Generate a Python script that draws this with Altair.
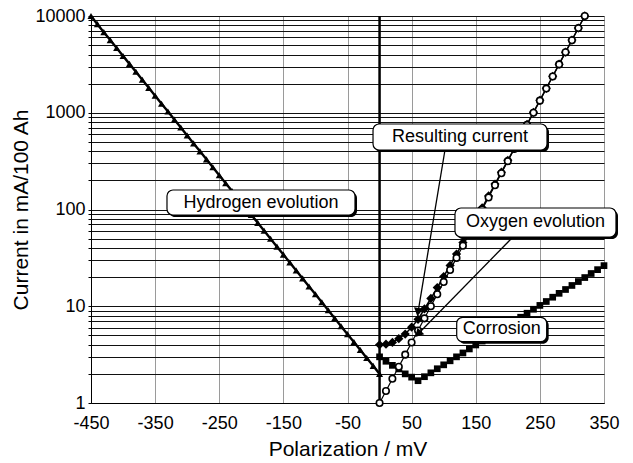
import altair as alt
import pandas as pd

# ---------------- data ----------------
hydrogen_x = [-450, -440, -430, -420, -410, -400, -390, -380, -370, -360,
              -350, -340, -330, -320, -310, -300, -290, -280, -270, -260,
              -250, -240, -230, -220, -210, -200, -190, -180, -170, -160,
              -150, -140, -130, -120, -110, -100, -90, -80, -70, -60,
              -50, -40, -30, -20, -10, 0]
hydrogen_y = [10000, 8230, 6810, 5640, 4670, 3860, 3200, 2650, 2190, 1810,
              1500, 1240, 1030, 850, 703, 582, 482, 399, 330, 273,
              226, 187, 155, 128, 106, 88, 72.8, 60.3, 49.9, 41.3,
              34.2, 28.3, 23.4, 19.4, 16.0, 13.3, 11.0, 9.08, 7.52, 6.22,
              5.15, 4.26, 3.53, 2.92, 2.42, 2.0]

oxygen_x = [0, 10, 20, 30, 40, 50, 60, 70, 80, 90, 100, 110, 120, 130, 140,
            150, 160, 170, 180, 190, 200, 210, 220, 230, 240, 250, 260, 270,
            280, 290, 300, 310, 320]
oxygen_y = [1.0, 1.33, 1.78, 2.37, 3.16, 4.22, 5.62, 7.5, 10.0, 13.3, 17.8,
            23.7, 31.6, 42.2, 56.2, 75, 100, 133, 178, 237, 316, 422, 562,
            750, 1000, 1334, 1778, 2371, 3162, 4217, 5623, 7499, 10000]

corrosion_x = [0, 10, 20, 30, 40, 50, 60, 70, 80, 90, 100, 110, 120, 130,
               140, 150, 160, 170, 180, 190, 200, 210, 220, 230, 240, 250,
               260, 270, 280, 290, 300, 310, 320, 330, 340, 350]
corrosion_y = [3.0, 2.7, 2.45, 2.25, 2.0, 1.85, 1.7, 1.87, 2.05, 2.26, 2.48,
               2.73, 3.0, 3.29, 3.62, 3.98, 4.37, 4.8, 5.28, 5.8, 6.38, 7.01,
               7.7, 8.47, 9.31, 10.2, 11.2, 12.4, 13.6, 14.9, 16.4, 18.0,
               19.8, 21.8, 23.9, 26.3]

resulting_x = [0, 10, 20, 30, 40, 50, 60, 70, 80, 90, 100, 110, 120, 130,
               140, 150, 160, 170, 180, 190, 200, 210, 220, 230, 240, 250,
               260, 270, 280, 290, 300, 310, 320]
resulting_y = [4.0, 4.05, 4.23, 4.62, 5.16, 6.07, 7.32, 9.37, 12.05, 15.6,
               20.3, 26.4, 34.6, 45.5, 59.8, 79, 104, 138, 183, 243, 322,
               429, 570, 758, 1009, 1344, 1789, 2383, 3176, 4232, 5639,
               7517, 10020]

x_ticks = [-450, -350, -250, -150, -50, 50, 150, 250, 350]
y_ticks = [1, 2, 3, 4, 5, 6, 7, 8, 9,
           10, 20, 30, 40, 50, 60, 70, 80, 90,
           100, 200, 300, 400, 500, 600, 700, 800, 900,
           1000, 2000, 3000, 4000, 5000, 6000, 7000, 8000, 9000, 10000]
y_labels = [1, 10, 100, 1000, 10000]

# callout boxes (data units)
box_text = ["Hydrogen evolution", "Resulting current", "Oxygen evolution", "Corrosion"]
box_x1 = [-331.5, -10.2, 117.6, 120.3]
box_x2 = [-38.3, 261.1, 368.7, 260.6]
box_y1 = [87.7, 412, 52.0, 4.30]
box_y2 = [159, 765, 103.6, 7.69]

# leader lines (data units): start at box, end at curve
lead_x1 = [102, 208]
lead_y1 = [412, 52.0]
lead_x2 = [60, 60]
lead_y2 = [8.7, 5.17]
lead_angle = [189.5, 224.4]

FONT = "Liberation Sans"

# ---------------- encodings ----------------
x_scale = alt.Scale(domain=[-450, 350], nice=False, zero=False)
y_scale = alt.Scale(type="log", domain=[1, 10000], nice=False)
label_test = " || ".join(f"datum.value == {v}" for v in y_labels)
x_axis = alt.Axis(values=x_ticks, title="Polarization / mV", grid=True,
                  gridColor="#9a9a9a", gridWidth=1, ticks=False,
                  domainColor="black", domainWidth=1, labelFlush=False,
                  labelExpr="'' + datum.value",
                  labelPadding=11, titlePadding=6, labelFontSize=18,
                  titleFontSize=21, labelFont=FONT, titleFont=FONT,
                  titleFontWeight="normal", labelColor="black", titleColor="black")
y_axis = alt.Axis(values=y_ticks, title="Current in mA/100 Ah", grid=True,
                  gridColor="#111111", gridWidth=1, ticks=True, tickSize=3,
                  tickColor="black", domainColor="black", domainWidth=1,
                  labelExpr=f"({label_test}) ? ('' + datum.value) : ''",
                  labelOverlap=False, labelPadding=3,
                  titlePadding=3, labelFontSize=18, titleFontSize=21,
                  labelFont=FONT, titleFont=FONT, titleFontWeight="normal",
                  labelColor="black", titleColor="black")


def X(f):
    return alt.X(f, type="quantitative", scale=x_scale, axis=x_axis)


def Y(f):
    return alt.Y(f, type="quantitative", scale=y_scale, axis=y_axis)


def series(xs, ys):
    return pd.DataFrame({"x": xs, "y": ys})


h_df = series(hydrogen_x, hydrogen_y)
o_df = series(oxygen_x, oxygen_y)
c_df = series(corrosion_x, corrosion_y)
r_df = series(resulting_x, resulting_y)

zero_df = pd.DataFrame({"x": [0]})
zero_rule = alt.Chart(zero_df).mark_rule(color="black", strokeWidth=2.5).encode(x=X("x"))

layers = [zero_rule]

# corrosion
layers.append(alt.Chart(c_df).mark_line(color="black", strokeWidth=1.5).encode(x=X("x"), y=Y("y")))
layers.append(alt.Chart(c_df).mark_point(shape="square", filled=True, color="black", size=45, opacity=1).encode(x=X("x"), y=Y("y")))
# hydrogen
layers.append(alt.Chart(h_df).mark_line(color="black", strokeWidth=2.4).encode(x=X("x"), y=Y("y")))
layers.append(alt.Chart(h_df).mark_point(shape="triangle-up", filled=True, color="black", size=50, opacity=1).encode(x=X("x"), y=Y("y")))
# resulting
layers.append(alt.Chart(r_df).mark_line(color="black", strokeWidth=1.5).encode(x=X("x"), y=Y("y")))
layers.append(alt.Chart(r_df).mark_point(shape="diamond", filled=True, color="black", size=85, opacity=1).encode(x=X("x"), y=Y("y")))
# oxygen
layers.append(alt.Chart(o_df).mark_line(color="black", strokeWidth=1.2).encode(x=X("x"), y=Y("y")))
layers.append(alt.Chart(o_df).mark_point(shape="circle", filled=True, fill="white", stroke="black", strokeWidth=1.6, size=42, opacity=1).encode(x=X("x"), y=Y("y")))

# leaders
lead_df = pd.DataFrame({"x": lead_x1, "y": lead_y1, "x2": lead_x2, "y2": lead_y2, "angle": lead_angle})
layers.append(alt.Chart(lead_df).mark_rule(color="black", strokeWidth=1.3).encode(
    x=X("x"), y=Y("y"), x2=alt.X2("x2"), y2=alt.Y2("y2")))
layers.append(alt.Chart(lead_df).mark_point(shape="triangle-up", filled=True, color="black", size=90, opacity=1).encode(
    x=X("x2"), y=Y("y2"), angle=alt.Angle("angle:Q", scale=None)))

# boxes
box_df = pd.DataFrame({"text": box_text, "x1": box_x1, "x2": box_x2, "y1": box_y1, "y2": box_y2})
box_df["xm"] = (box_df["x1"] + box_df["x2"]) / 2
box_df["ym"] = (box_df["y1"] * box_df["y2"]) ** 0.5
layers.append(alt.Chart(box_df).mark_rect(fill="black", cornerRadius=6, xOffset=2, x2Offset=2, yOffset=2, y2Offset=2).encode(
    x=X("x1"), x2=alt.X2("x2"), y=Y("y1"), y2=alt.Y2("y2")))
layers.append(alt.Chart(box_df).mark_rect(fill="white", stroke="black", strokeWidth=1.2, cornerRadius=6).encode(
    x=X("x1"), x2=alt.X2("x2"), y=Y("y1"), y2=alt.Y2("y2")))
layers.append(alt.Chart(box_df).mark_text(font=FONT, fontSize=18, color="black", align="center", baseline="middle").encode(
    x=X("xm"), y=Y("ym"), text="text:N"))

chart = alt.layer(*layers).properties(
    width=513, height=387,
    autosize=alt.AutoSizeParams(type="none"),
    padding={"left": 91, "top": 16, "right": 29, "bottom": 60},
).configure_view(stroke=None).configure(background="white")

chart.save("out.html", embed_options={"renderer": "svg", "actions": False})
